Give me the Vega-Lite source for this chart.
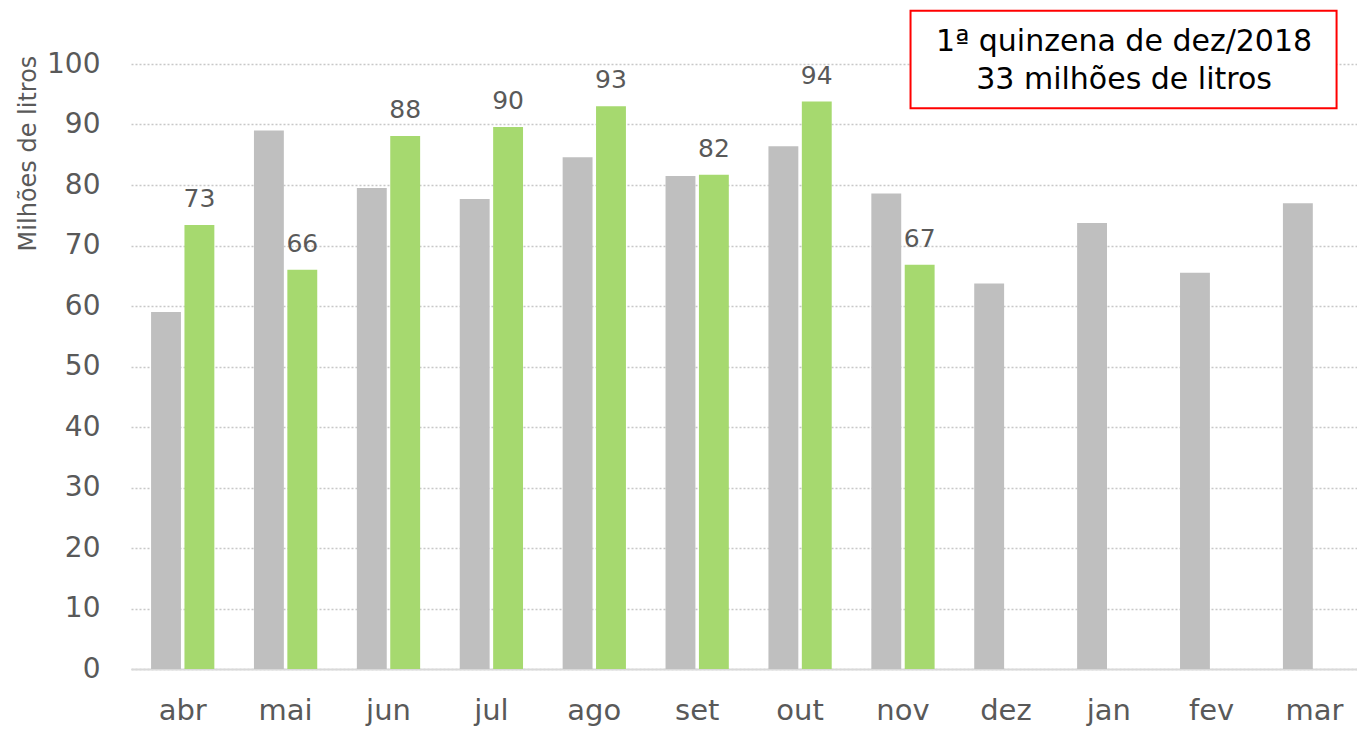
{
  "$schema": "https://vega.github.io/schema/vega-lite/v6.json",
  "width": 1226,
  "height": 605,
  "autosize": "none",
  "padding": {"left": 131, "top": 64, "right": 0, "bottom": 60},
  "background": "white",
  "config": {
    "view": {"stroke": null},
    "font": "DejaVu Sans"
  },
  "datasets": {
    "bars": [
      {"month": "abr", "series": "prev", "value": 59.0},
      {"month": "mai", "series": "prev", "value": 89.0},
      {"month": "jun", "series": "prev", "value": 79.5},
      {"month": "jul", "series": "prev", "value": 77.7},
      {"month": "ago", "series": "prev", "value": 84.6},
      {"month": "set", "series": "prev", "value": 81.5},
      {"month": "out", "series": "prev", "value": 86.4},
      {"month": "nov", "series": "prev", "value": 78.6},
      {"month": "dez", "series": "prev", "value": 63.7},
      {"month": "jan", "series": "prev", "value": 73.7},
      {"month": "fev", "series": "prev", "value": 65.5},
      {"month": "mar", "series": "prev", "value": 77.0},
      {"month": "abr", "series": "cur", "value": 73.4},
      {"month": "mai", "series": "cur", "value": 66.0},
      {"month": "jun", "series": "cur", "value": 88.1},
      {"month": "jul", "series": "cur", "value": 89.6},
      {"month": "ago", "series": "cur", "value": 93.0},
      {"month": "set", "series": "cur", "value": 81.7},
      {"month": "out", "series": "cur", "value": 93.8},
      {"month": "nov", "series": "cur", "value": 66.8}
    ],
    "box": [
      {"x1": 7.63, "x2": 11.8, "y1": 92.7, "y2": 108.8}
    ],
    "boxtext": [
      {"xc": 9.72, "y": 103.6, "label": "1ª quinzena de dez/2018"},
      {"xc": 9.72, "y": 97.3, "label": "33 milhões de litros"}
    ]
  },
  "layer": [
    {
      "data": {"name": "bars"},
      "encoding": {
        "x": {
          "field": "month",
          "type": "nominal",
          "sort": ["abr", "mai", "jun", "jul", "ago", "set", "out", "nov", "dez", "jan", "fev", "mar"],
          "scale": {"domain": ["abr", "mai", "jun", "jul", "ago", "set", "out", "nov", "dez", "jan", "fev", "mar"], "paddingInner": 0.385, "paddingOuter": 0.15, "align": 0.65},
          "axis": {
            "title": null,
            "labelAngle": 0,
            "labelFont": "DejaVu Sans",
            "labelFontSize": 29,
            "labelColor": "#595959",
            "labelPadding": 27,
            "ticks": false,
            "tickSize": 0,
            "domainColor": "#D9D9D9",
            "domainWidth": 2,
            "grid": false
          }
        },
        "xOffset": {
          "field": "series",
          "type": "nominal",
          "scale": {"domain": ["prev", "cur"], "paddingInner": 0.105, "paddingOuter": 0}
        },
        "y": {
          "field": "value",
          "type": "quantitative",
          "scale": {"domain": [0, 100], "nice": false, "zero": true},
          "axis": {
            "title": "Milhões de litros",
            "titleFont": "DejaVu Sans",
            "titleFontSize": 24,
            "titleFontWeight": "normal",
            "titleColor": "#595959",
            "titleAngle": -90,
            "titleAlign": "center",
            "titleBaseline": "middle",
            "titleX": -103,
            "titleY": 89,
            "values": [0, 10, 20, 30, 40, 50, 60, 70, 80, 90, 100],
            "labelFont": "DejaVu Sans",
            "labelFontSize": 28,
            "labelColor": "#595959",
            "labelPadding": 31,
            "ticks": false,
            "tickSize": 0,
            "domain": false,
            "grid": true,
            "gridColor": "#C8C8C8",
            "gridDash": [2, 2],
            "gridWidth": 1.3
          }
        }
      },
      "layer": [
        {
          "mark": {"type": "bar"},
          "encoding": {
            "color": {
              "field": "series",
              "type": "nominal",
              "scale": {"domain": ["prev", "cur"], "range": ["#BFBFBF", "#A6D96F"]},
              "legend": null
            }
          }
        },
        {
          "transform": [{"filter": "datum.series === 'cur'"}],
          "mark": {"type": "text", "baseline": "alphabetic", "dy": -18, "fontSize": 25, "color": "#595959", "font": "DejaVu Sans"},
          "encoding": {
            "text": {"field": "value", "type": "quantitative", "format": ".0f"}
          }
        }
      ]
    },
    {
      "layer": [
        {
          "data": {"name": "box"},
          "mark": {"type": "rect", "fill": "white", "stroke": "#FF0000", "strokeWidth": 2},
          "encoding": {
            "x": {"field": "x1", "type": "quantitative", "scale": {"domain": [0, 12], "nice": false, "zero": false}, "axis": null},
            "x2": {"field": "x2"},
            "y": {"field": "y1", "type": "quantitative"},
            "y2": {"field": "y2"}
          }
        },
        {
          "data": {"name": "boxtext"},
          "mark": {"type": "text", "align": "center", "baseline": "middle", "fontSize": 30, "color": "#000000", "font": "DejaVu Sans"},
          "encoding": {
            "x": {"field": "xc", "type": "quantitative", "scale": {"domain": [0, 12], "nice": false, "zero": false}, "axis": null},
            "y": {"field": "y", "type": "quantitative"},
            "text": {"field": "label", "type": "nominal"}
          }
        }
      ]
    }
  ],
  "resolve": {"scale": {"x": "independent"}, "axis": {"x": "independent"}}
}
